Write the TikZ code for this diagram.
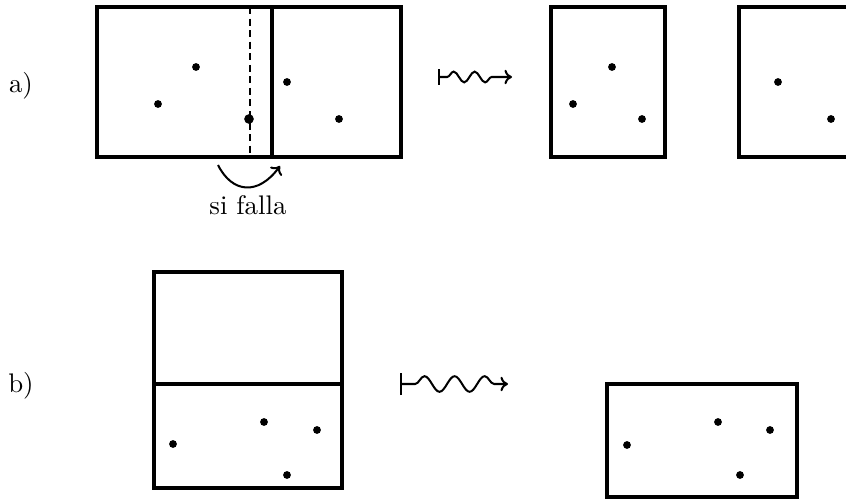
\documentclass[tikz,border=0pt]{standalone}
\usepackage{amsmath,amssymb}
\usepackage{tikz}
\usetikzlibrary{arrows.meta,decorations.pathmorphing}

\begin{document}
\begin{tikzpicture}[x=0.372pt, y=-0.372pt,
  caja/.style={line width=1.3pt},
  corte/.style={line width=0.75pt, dash pattern=on 2.6pt off 1.7pt},
  punto/.style={fill=black},
  flecha/.style={line width=0.75pt, -{To[length=2.8pt,width=5.4pt]}},
  onda/.style={line width=0.75pt, decorate, decoration={snake, amplitude=#1}},
  etiq/.style={inner sep=0pt, font=\normalsize}]
\useasboundingbox (0,0) rectangle (846,499);
% a) reparto de una hoja llena
\node[etiq] (la) at (21,86) {a)};
\draw[caja] (97,7) rectangle (401,157);
\draw[caja] (272,7) -- (272,157);
\draw[corte] (250,7) -- (250,157);
\fill[punto] (196,67) circle (1.45pt) (158,104) circle (1.45pt) (287,82) circle (1.45pt) (339,119) circle (1.45pt);
\fill[punto] (249,119) circle (1.8pt);
\coordinate (sa) at (218,165); \coordinate (sb) at (280,166);
\draw[flecha] (sa) .. controls (232,193) and (258,196) .. (sb);
\node[etiq] (falla) at (248,205) {si falla};
\coordinate (ia) at (438,77); \coordinate (fa) at (512,77);
\draw[onda=2pt, decoration={segment length=7.8pt, pre length=3.4pt, post length=4.2pt},
  {Bar[width=5.8pt]}-{To[length=2.8pt,width=5.4pt]}] (ia) -- (fa);
\draw[caja] (551,7) rectangle (665,157);
\fill[punto] (612,67) circle (1.45pt) (573,104) circle (1.45pt) (642,119) circle (1.45pt);
\draw[caja] (739,7) rectangle (868,157);
\fill[punto] (778,82) circle (1.45pt) (831,119) circle (1.45pt);
% b) hoja con la mitad vacia
\node[etiq] (lb) at (21,386) {b)};
\draw[caja] (154,272) rectangle (342,488);
\draw[caja] (154,384) -- (342,384);
\fill[punto] (173,444) circle (1.45pt) (264,422) circle (1.45pt) (317,430) circle (1.45pt) (287,475) circle (1.45pt);
\coordinate (ib) at (400,384); \coordinate (fb) at (508,384);
\draw[onda=2.9pt, decoration={segment length=11.2pt, pre length=5.6pt, post length=3.2pt},
  {Bar[width=8.2pt]}-{To[length=2.8pt,width=5.4pt]}] (ib) -- (fb);
\draw[caja] (607,384) rectangle (797,497);
\fill[punto] (627,445) circle (1.45pt) (718,422) circle (1.45pt) (770,430) circle (1.45pt) (740,475) circle (1.45pt);
\end{tikzpicture}
\end{document}
